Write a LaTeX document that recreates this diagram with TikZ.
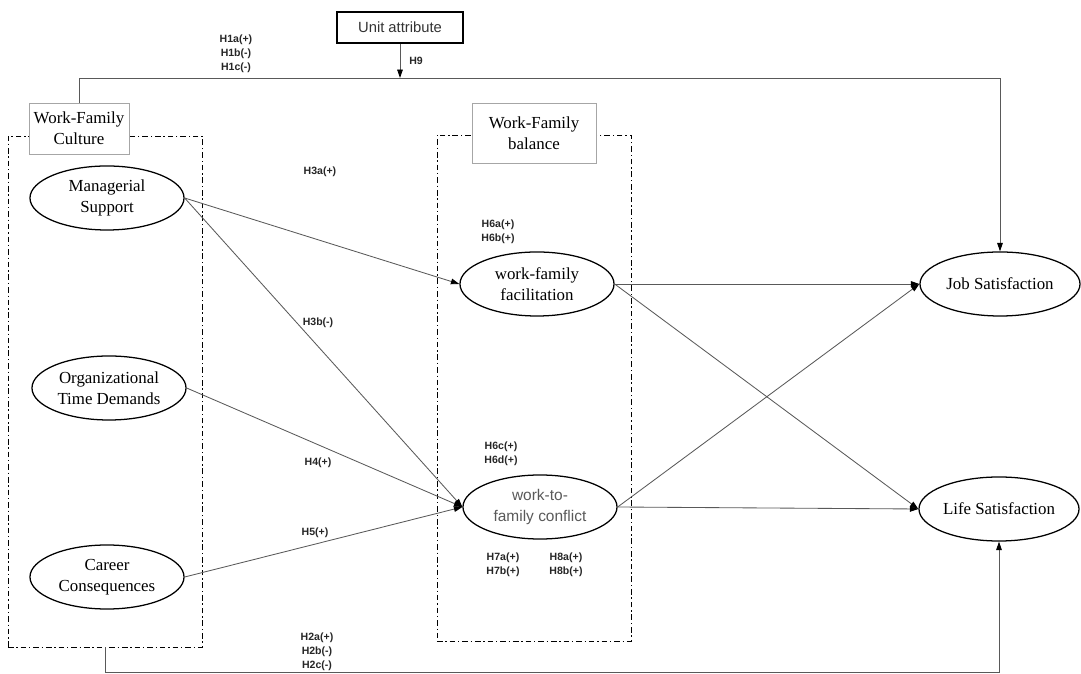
\documentclass[tikz,border=0pt]{standalone}
\usepackage{fontspec}
\setmainfont{Liberation Serif}
\newfontfamily\hlabelfont{Liberation Sans}
\usepackage{tikz}
\usetikzlibrary{shapes.geometric,arrows.meta,positioning,calc}

\begin{document}
\begin{tikzpicture}[
    x=0.025cm, y=-0.025cm,
    construct/.style={ellipse, draw, line width=0.9pt, minimum width=3.85cm, minimum height=1.6cm, align=center, font=\fontsize{12}{15}\selectfont, inner sep=0pt},
    outcome/.style={construct, minimum width=4cm},
    titlebox/.style={rectangle, draw=gray!70, fill=white, line width=0.5pt, align=center, font=\fontsize{12}{15}\selectfont},
    group/.style={rectangle, draw, line width=0.6pt, dash pattern=on 4pt off 2pt on 1pt off 2pt},
    link/.style={draw=black!65, line width=0.6pt, -{Triangle[length=6pt,width=4pt,color=black]}},
    hyp/.style={align=center, font=\hlabelfont\bfseries\fontsize{7.5}{10}\selectfont, text=black!85}
]
    \useasboundingbox (0,0) rectangle (1081,674);

    % Dash-dot groups
    \node[group, minimum width=4.85cm, minimum height=12.775cm] (culturegroup) at (105, 391.5) {};
    \node[group, minimum width=4.85cm, minimum height=12.65cm] (balancegroup) at (534, 388) {};

    % Group titles
    \node[titlebox, minimum width=2.35cm, minimum height=1.275cm] (culture) at (79, 128.5) {Work-Family\\Culture};
    \node[titlebox, minimum width=3.1cm, minimum height=1.5cm] (balance) at (534, 133) {Work-Family\\balance};
    \node[rectangle, draw, line width=0.8pt, minimum width=3.15cm, minimum height=0.775cm, font=\hlabelfont\fontsize{10.5}{12}\selectfont, text=black!80] (unit) at (400, 27.5) {Unit attribute};

    % Antecedents
    \node[construct] (support) at (107, 198) {Managerial\\Support};
    \node[construct] (demands) at (109, 388) {Organizational\\Time Demands};
    \node[construct] (career) at (107, 577) {Career\\Consequences};

    % Mediators
    \node[construct] (facil) at (537, 284) {work-family\\facilitation};
    \node[construct, font=\hlabelfont\fontsize{11}{15}\selectfont, text=black!65] (conflict) at (540, 507) {work-to-\\family conflict};

    % Outcomes
    \node[outcome] (jobsat) at (1000, 284) {Job Satisfaction};
    \node[outcome] (lifesat) at (999, 509) {Life Satisfaction};

    % Rails
    \coordinate (railtop) at (0, 78);
    \coordinate (railbot) at (0, 672);

    % Paths
    \draw[link] (support.east) -- (facil.west);
    \draw[link] (support.east) -- (conflict.west);
    \draw[link] (demands.east) -- (conflict.west);
    \draw[link] (career.east) -- (conflict.west);
    \draw[link] (facil.east) -- (jobsat.west);
    \draw[link] (facil.east) -- (lifesat.west);
    \draw[link] (conflict.east) -- (jobsat.west);
    \draw[link] (conflict.east) -- (lifesat.west);
    \draw[link] (culture.north) |- (railtop -| jobsat.north) -- (jobsat.north);
    \draw[link] (culturegroup.south) |- (railbot -| lifesat.south) -- (lifesat.south);
    \draw[link] (unit.south) -- (unit.south |- railtop);

    % Hypotheses
    \node[hyp] (h1) at (236, 54) {H1a(+)\\H1b(-)\\H1c(-)};
    \node[hyp] (h9) at (416, 61) {H9};
    \node[hyp] (h3a) at (320, 172) {H3a(+)};
    \node[hyp] (h3b) at (318, 323) {H3b(-)};
    \node[hyp] (h4) at (318, 463) {H4(+)};
    \node[hyp] (h5) at (315, 533) {H5(+)};
    \node[hyp] (h6ab) at (498, 232) {H6a(+)\\H6b(+)};
    \node[hyp] (h6cd) at (501, 454) {H6c(+)\\H6d(+)};
    \node[hyp] (h7) at (503, 565) {H7a(+)\\H7b(+)};
    \node[hyp] (h8) at (566, 565) {H8a(+)\\H8b(+)};
    \node[hyp] (h2) at (317, 652) {H2a(+)\\H2b(-)\\H2c(-)};
\end{tikzpicture}
\end{document}
